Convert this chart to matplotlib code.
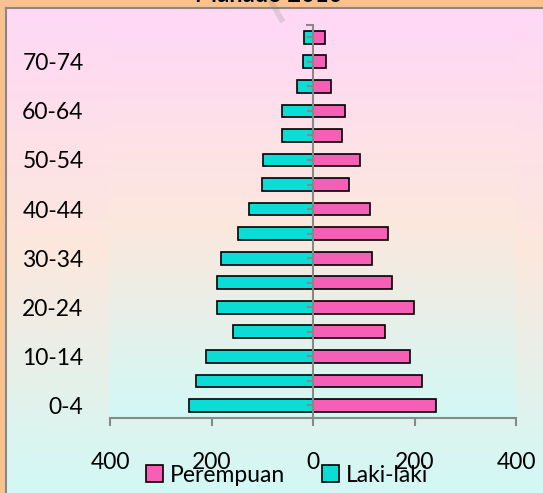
import matplotlib
matplotlib.use("Agg")
import matplotlib.pyplot as plt
import numpy as np
from matplotlib.colors import LinearSegmentedColormap
from matplotlib.lines import Line2D
from matplotlib.patches import Patch

# Manado 2010 population pyramid
age_groups = ['0-4', '5-9', '10-14', '15-19', '20-24', '25-29', '30-34', '35-39',
              '40-44', '45-49', '50-54', '55-59', '60-64', '65-69', '70-74', '75+']
laki_laki = [245, 231, 211, 157, 190, 190, 181, 147, 127, 101, 99, 62, 62, 31, 20, 18]
perempuan = [243, 214, 191, 141, 199, 156, 117, 148, 112, 71, 93, 57, 63, 35, 25, 23]
x_ticks = [-400, -200, 0, 200, 400]

pink = '#F65FB6'
cyan = '#0BDCD5'
grey = '#888888'

plt.rcParams['font.family'] = ['Lato', 'DejaVu Sans']

fig = plt.figure(figsize=(5.43, 4.93), dpi=100, facecolor='#F9C18E')

# background of the chart area (pink -> peach -> light cyan)
grad = LinearSegmentedColormap.from_list('bg', ['#FFD8F6', '#FCE8DD', '#D2F8F5'])
bg = fig.add_axes([7 / 543, 0, 1 - 7 / 543, 1 - 9 / 493])
bg.imshow(np.linspace(0, 1, 256).reshape(-1, 1), cmap=grad, aspect='auto',
          extent=(0, 1, 0, 1), origin='upper')
bg.set_axis_off()
fig.add_artist(Line2D([6 / 543, 6 / 543], [0, 1 - 8 / 493], transform=fig.transFigure,
                      color=grey, lw=1.5))
fig.add_artist(Line2D([6 / 543, 1], [1 - 8 / 493, 1 - 8 / 493], transform=fig.transFigure,
                      color=grey, lw=1.5))

# title, mostly cropped off the top
fig.text(0.495, 1 - 1.5 / 493, 'Manado 2010', ha='center', va='baseline',
         fontsize=17, fontweight='bold', color='black')
fig.add_artist(Line2D([270 / 543, 283 / 543], [1.0, 1 - 22 / 493], transform=fig.transFigure,
                      color='#7a7a7a', lw=4, alpha=0.2, solid_capstyle='butt'))

ax = fig.add_axes([110 / 543, 1 - 417.7 / 493, 406 / 543, 392.7 / 493])
ax.set_zorder(2)
ax.patch.set_alpha(0)

y = np.arange(len(age_groups))
ax.imshow(np.linspace(0, 1, 256).reshape(-1, 1), cmap=grad, aspect='auto',
          extent=(-400, 400, -0.5, 15.5), origin='upper', zorder=0)

ax.barh(y, [-v for v in laki_laki], height=0.52, color=cyan, edgecolor='black',
        linewidth=1.2, zorder=2)
ax.barh(y, perempuan, height=0.52, color=pink, edgecolor='black',
        linewidth=1.2, zorder=2)

ax.set_xlim(-400, 400)
ax.set_ylim(-0.5, 15.5)

for s in ['top', 'right', 'left']:
    ax.spines[s].set_visible(False)
ax.spines['bottom'].set_color(grey)
ax.spines['bottom'].set_linewidth(1.5)

ax.set_xticks(x_ticks)
ax.set_xticklabels([str(abs(v)) for v in x_ticks])
ax.tick_params(axis='x', direction='out', length=6, width=1.5, color=grey,
               labelsize=16.5, pad=19)

ax.set_yticks(y[::2])
ax.set_yticklabels(age_groups[::2])
ax.tick_params(axis='y', length=0, labelsize=16.5, pad=19)

# centre axis with small ticks at each bar
ax.axvline(0, color=grey, lw=1.5, zorder=3)
ax.plot(np.full(len(y), -6), y, marker='_', ms=4.5, mew=1.5, color=grey,
        ls='none', zorder=3)
ax.plot([-12, 0], [15.5, 15.5], color=grey, lw=1.5, zorder=3, clip_on=False)

handles = [Patch(facecolor=pink, edgecolor='black', linewidth=1.2),
           Patch(facecolor=cyan, edgecolor='black', linewidth=1.2)]
fig.legend(handles, ['Perempuan', 'Laki-laki'], loc='center',
           bbox_to_anchor=(287 / 543, 1 - 475 / 493), ncol=2, frameon=False,
           fontsize=16.5, handlelength=0.75, handleheight=0.75,
           handletextpad=0.3, columnspacing=1.6)

fig.savefig('out.png', dpi=100, facecolor=fig.get_facecolor())
